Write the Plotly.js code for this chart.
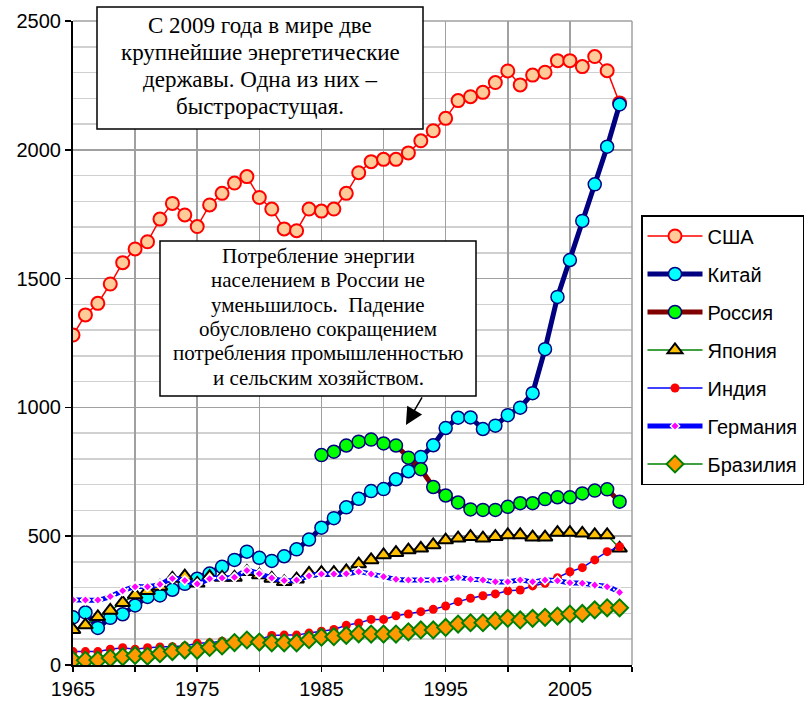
<!DOCTYPE html>
<html>
<head>
<meta charset="utf-8">
<script src="https://cdn.plot.ly/plotly-3.0.1.min.js"></script>
<style>html,body{margin:0;padding:0;background:#fff;}#chart{width:810px;height:704px;}</style>
</head>
<body>
<div id="chart"></div>
<script>
var years = [];
for (var yr = 1965; yr <= 2009; yr++) years.push(yr);
var yearsRussia = years.slice(20);

var usa = [1281,1359,1404,1479,1562,1615,1643,1731,1792,1747,1702,1786,1831,1871,1896,1815,1770,1693,1686,1770,1762,1770,1831,1911,1954,1963,1963,1988,2035,2074,2122,2191,2206,2223,2261,2306,2252,2290,2301,2346,2346,2323,2362,2307,2182];
var china = [185,204,144,183,197,231,264,270,292,315,335,355,381,408,440,416,404,422,449,487,533,570,612,645,675,683,721,752,807,853,920,960,961,916,929,970,999,1055,1226,1429,1572,1724,1866,2012,2176];
var russia = [815,828,852,867,875,860,852,805,760,691,658,631,604,602,602,614,628,628,644,651,651,666,677,682,634];
var japan = [137,155,187,212,242,272,288,305,336,345,317,343,340,340,362,349,336,323,333,356,359,359,365,392,408,427,436,446,453,466,485,492,498,492,498,505,505,496,496,514,514,511,505,505,453];
var india = [52,52,52,61,67,61,67,70,71,74,84,86,92,97,104,99,115,116,116,124,131,138,154,163,177,177,191,198,207,216,229,246,259,269,276,288,291,307,317,339,362,378,408,440,459];
var germany = [252,252,252,266,288,304,304,313,336,328,315,335,338,341,367,354,338,328,330,346,353,353,354,362,353,343,333,330,330,330,333,340,333,330,323,323,330,323,330,327,319,317,310,304,282];
var brazil = [18,18,19,27,32,37,34,44,52,58,57,68,74,87,97,89,86,86,86,98,108,110,115,121,120,120,120,129,136,136,146,159,164,164,172,181,175,181,185,190,198,200,214,222,222];

var names = ['США','Китай','Россия','Япония','Индия','Германия','Бразилия'];
var xTickVals = [1965,1970,1975,1980,1985,1990,1995,2000,2005,2010];
var xTickText = ['1965','','1975','','1985','','1995','','2005',''];
var yTickVals = [0,500,1000,1500,2000,2500];

var note1Lines = ['С 2009 года в мире две', 'крупнейшие энергетические', 'державы. Одна из них –', 'быстрорастущая.'];
var note2Lines = ['Потребление энергии', 'населением в России не', 'уменьшилось.  Падение', 'обусловлено сокращением', 'потребления промышленностью', 'и сельским хозяйством.'];

var traces = [
  {x: years, y: usa, name: names[0], mode: 'lines+markers', legendgroup: 'g1',
   line: {color: '#FF0000', width: 1.5},
   marker: {symbol: 'circle', size: 13, color: '#FFCC99', line: {color: '#FF0000', width: 2}}},
  {x: years, y: china, name: names[1], mode: 'lines+markers', legendgroup: 'g2',
   line: {color: '#000080', width: 5},
   marker: {symbol: 'circle', size: 13, color: '#00FFFF', line: {color: '#000080', width: 1.5}}},
  {x: yearsRussia, y: russia, name: names[2], mode: 'lines+markers', legendgroup: 'g3',
   line: {color: '#800000', width: 5},
   marker: {symbol: 'circle', size: 13, color: '#00FF00', line: {color: '#000080', width: 1.5}}},
  {x: years, y: japan, name: names[3], mode: 'lines+markers', legendgroup: 'g4',
   line: {color: '#008000', width: 1.5},
   marker: {symbol: 'triangle-up', size: 13, color: '#FFC000', line: {color: '#000000', width: 2}}},
  {x: years, y: india, name: names[4], mode: 'lines+markers', legendgroup: 'g5',
   line: {color: '#0000FF', width: 1.5},
   marker: {symbol: 'circle', size: 9, color: '#FF0000', line: {width: 0}}},
  {x: years, y: germany, name: names[5], mode: 'lines+markers', legendgroup: 'g6',
   line: {color: '#0000FF', width: 5, shape: 'spline'},
   marker: {symbol: 'diamond', size: 7, color: '#FF00FF', line: {color: '#FFFFFF', width: 1.5}}},
  {x: years, y: germany, name: names[5], mode: 'lines', legendgroup: 'g6', showlegend: false, hoverinfo: 'skip',
   line: {color: '#FFFFFF', width: 2, shape: 'spline', dash: '2px,5px'}},
  {x: years, y: germany, name: names[5], mode: 'markers', legendgroup: 'g6', showlegend: false, hoverinfo: 'skip',
   marker: {symbol: 'diamond', size: 7, color: '#FF00FF', line: {color: '#FFFFFF', width: 1.5}}},
  {x: years, y: brazil, name: names[6], mode: 'lines+markers', legendgroup: 'g7',
   line: {color: '#008000', width: 1.5},
   marker: {symbol: 'diamond', size: 13, color: '#FF9900', line: {color: '#008000', width: 2}}}
];

// plot area in pixels: x 73..632, y 21..665
function px2x(p) { return (p - 73) / 559; }
function px2y(p) { return (665 - p) / 644; }

var serif = 'Liberation Serif, Times New Roman, serif';
var annotations = [];
note1Lines.forEach(function (t, i) {
  annotations.push({xref: 'paper', yref: 'paper', x: px2x(260), y: px2y(26 + 27 * i),
    xanchor: 'center', yanchor: 'middle', text: t, showarrow: false,
    font: {family: serif, size: 23, color: '#000'}});
});
note2Lines.forEach(function (t, i) {
  annotations.push({xref: 'paper', yref: 'paper', x: px2x(318), y: px2y(256 + 24.3 * i),
    xanchor: 'center', yanchor: 'middle', text: t, showarrow: false,
    font: {family: serif, size: 21, color: '#000'}});
});
annotations.push({xref: 'x', yref: 'y', x: 1991.8, y: 932, text: '', showarrow: true,
  ax: 17, ay: -29, arrowhead: 2, arrowsize: 2.3, arrowwidth: 1.5, arrowcolor: '#000000'});

var layout = {
  width: 810, height: 704,
  margin: {l: 73, r: 178, t: 21, b: 39, autoexpand: false},
  paper_bgcolor: '#FFFFFF', plot_bgcolor: '#FFFFFF',
  font: {family: 'Liberation Sans, Arial, sans-serif', size: 20, color: '#000'},
  showlegend: true,
  legend: {x: px2x(641), y: px2y(215), xanchor: 'left', yanchor: 'top',
    bgcolor: '#FFFFFF', bordercolor: '#000000', borderwidth: 1.5,
    traceorder: 'grouped', tracegroupgap: 9, itemwidth: 55,
    font: {family: 'Liberation Sans, Arial, sans-serif', size: 20, color: '#000'}},
  xaxis: {range: [1965, 2010], tickmode: 'array', tickvals: xTickVals, ticktext: xTickText,
    ticks: 'outside', ticklen: 5, tickcolor: '#000', tickwidth: 1.5,
    showgrid: true, gridcolor: '#A0A0A0', gridwidth: 1.5,
    showline: true, linecolor: '#000', linewidth: 2, zeroline: false,
    tickfont: {size: 20}},
  yaxis: {range: [0, 2500], tickmode: 'array', tickvals: yTickVals,
    ticks: 'outside', ticklen: 6, tickcolor: '#000', tickwidth: 1.5,
    showgrid: true, gridcolor: '#A0A0A0', gridwidth: 1.5,
    minor: {dtick: 100, showgrid: true, gridcolor: '#D0D0D0', gridwidth: 1.5, ticks: ''},
    showline: true, linecolor: '#000', linewidth: 2, zeroline: false,
    tickfont: {size: 20}},
  shapes: [
    {type: 'line', xref: 'paper', yref: 'paper', x0: 0, x1: 1, y0: 1, y1: 1, line: {color: '#A0A0A0', width: 1.5}},
    {type: 'line', xref: 'paper', yref: 'paper', x0: 1, x1: 1, y0: 0, y1: 1, line: {color: '#A0A0A0', width: 1.5}},
    {type: 'rect', xref: 'paper', yref: 'paper', x0: px2x(97), x1: px2x(423), y0: px2y(129), y1: px2y(7),
     fillcolor: '#FFFFFF', line: {color: '#000000', width: 1.5}, layer: 'above'},
    {type: 'rect', xref: 'paper', yref: 'paper', x0: px2x(160), x1: px2x(476), y0: px2y(396), y1: px2y(241),
     fillcolor: '#FFFFFF', line: {color: '#000000', width: 1.5}, layer: 'above'}
  ],
  annotations: annotations
};

Plotly.newPlot('chart', traces, layout, {displayModeBar: false, staticPlot: true});
</script>
</body>
</html>
